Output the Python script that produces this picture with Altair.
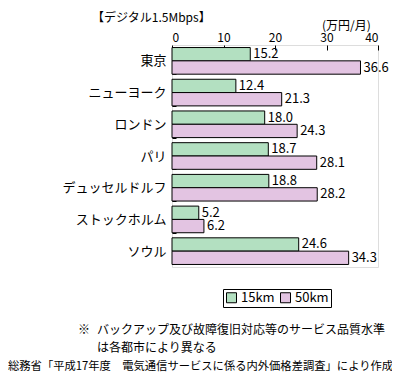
import altair as alt
import pandas as pd

cities = ["東京", "ニューヨーク", "ロンドン", "パリ", "デュッセルドルフ", "ストックホルム", "ソウル"]
v15 = [15.2, 12.4, 18.0, 18.7, 18.8, 5.2, 24.6]
v50 = [36.6, 21.3, 24.3, 28.1, 28.2, 6.2, 34.3]
series = ["15km", "50km"]
colors = ["#b3e0c1", "#e3c4e2"]
x_ticks = [0, 10, 20, 30, 40]

rows = []
for c, a, b in zip(cities, v15, v50):
    rows.append({"city": c, "series": series[0], "value": a, "label": f"{a:.1f}"})
    rows.append({"city": c, "series": series[1], "value": b, "label": f"{b:.1f}"})
df = pd.DataFrame(rows)

FONT = "Noto Sans CJK JP"
W, H = 206, 222

xs = alt.Scale(domain=[0, 40], nice=False, zero=True)
ys = alt.Scale(domain=cities, paddingInner=0.16, paddingOuter=0.08)

base = alt.Chart(df)

bars = base.mark_bar(stroke="black", strokeWidth=1).encode(
    x=alt.X("value:Q", scale=xs,
            axis=alt.Axis(orient="top", values=x_ticks, title=None, grid=False,
                          domain=False, offset=-5, tickSize=5, tickColor="black",
                          labelFont=FONT, labelFontSize=12, labelColor="black",
                          labelPadding=1)),
    y=alt.Y("city:N", scale=ys, sort=cities,
            axis=alt.Axis(title=None, domain=False, tickBand="extent", offset=-4,
                          tickSize=4, tickColor="black", labelFont=FONT,
                          labelFontSize=13, labelColor="black", labelPadding=6)),
    yOffset=alt.YOffset("series:N", sort=series),
    color=alt.Color("series:N", sort=series,
                    scale=alt.Scale(domain=series, range=colors),
                    legend=alt.Legend(title=None, orient="none", direction="horizontal",
                                      legendX=51, legendY=244, strokeColor="black",
                                      padding=2, symbolType="square", symbolSize=100,
                                      symbolStrokeColor="black", symbolStrokeWidth=1,
                                      labelFont=FONT, labelFontSize=13, labelColor="black",
                                      columnPadding=3, labelOffset=3)),
)

labels = base.mark_text(align="left", baseline="middle", dx=3, font=FONT,
                        fontSize=13, color="black").encode(
    x=alt.X("value:Q", scale=xs),
    y=alt.Y("city:N", scale=ys, sort=cities),
    yOffset=alt.YOffset("series:N", sort=series),
    text="label:N",
)

ann_text = ["【デジタル1.5Mbps】", "(万円/月)", "※", "バックアップ及び故障復旧対応等のサービス品質水準",
            "は各都市により異なる", "総務省「平成17年度　電気通信サービスに係る内外価格差調査」により作成"]
ann_x = [-80, 150, -94, -75, -75, -164]
ann_y = [-27, -19, 285, 285, 303, 322]
ann_size = [12, 12, 12, 12, 12, 11.3]

ann_layers = []
for t, px, py, fs in zip(ann_text, ann_x, ann_y, ann_size):
    ann_layers.append(
        alt.Chart(pd.DataFrame({"t": [t]})).mark_text(
            align="left", baseline="middle", font=FONT, fontSize=fs, color="black"
        ).encode(x=alt.value(px), y=alt.value(py), text="t:N")
    )

chart = alt.layer(bars, labels, *ann_layers).properties(
    width=W, height=H,
    padding={"left": 164, "top": 37, "right": 14, "bottom": 107},
    autosize=alt.AutoSizeParams(type="none"),
).configure_view(stroke="black", strokeWidth=1.5).configure(background="white")

chart.save("out.html", embed_options={"renderer": "svg", "actions": False})
